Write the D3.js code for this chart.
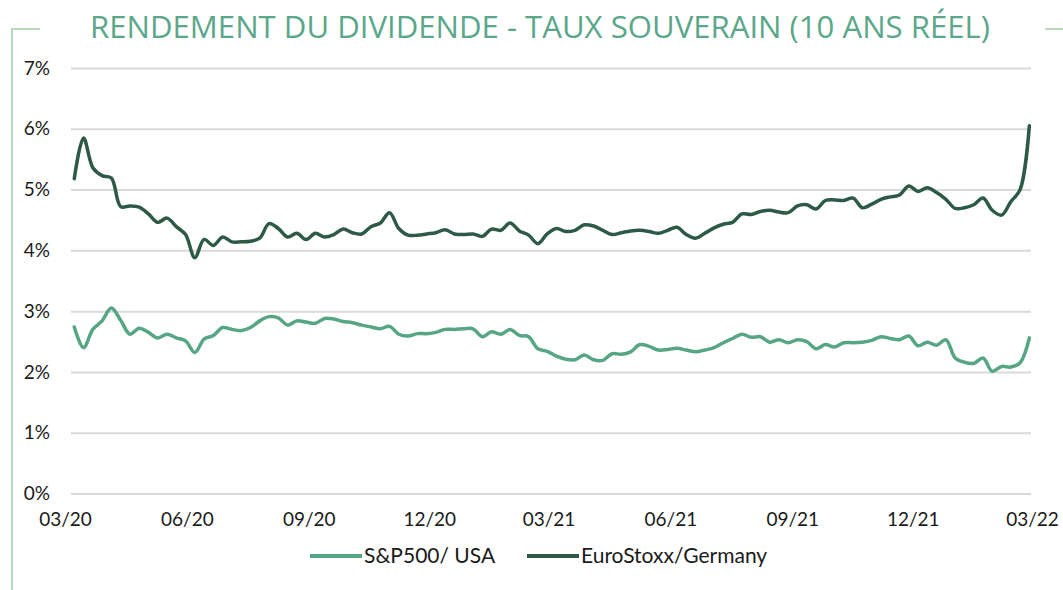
<!DOCTYPE html>
<html>
<head>
<meta charset="utf-8">
<script src="https://cdn.jsdelivr.net/npm/d3@7"></script>
<style>
  body { margin: 0; background: #fff; }
  text { font-family: Lato, "Open Sans", sans-serif; }
</style>
</head>
<body>
<div id="chart"></div>
<script>
// weekly observations
const startDate = '2020-03-08';

// dividend yield minus 10y real sovereign rate, in %
const spUsa = [
  2.74, 2.40, 2.70, 2.84, 3.05, 2.85, 2.62, 2.72, 2.65, 2.56,
  2.62, 2.56, 2.51, 2.32, 2.54, 2.60, 2.73, 2.70, 2.68, 2.73,
  2.84, 2.91, 2.89, 2.77, 2.84, 2.82, 2.80, 2.88, 2.87, 2.83,
  2.81, 2.77, 2.74, 2.71, 2.75, 2.62, 2.59, 2.63, 2.63, 2.65,
  2.70, 2.70, 2.71, 2.71, 2.58, 2.66, 2.62, 2.70, 2.60, 2.58,
  2.38, 2.34, 2.26, 2.21, 2.20, 2.28, 2.20, 2.19, 2.30, 2.29,
  2.33, 2.45, 2.42, 2.36, 2.37, 2.39, 2.36, 2.33, 2.36, 2.40,
  2.48, 2.55, 2.62, 2.57, 2.58, 2.49, 2.53, 2.48, 2.53, 2.50,
  2.38, 2.45, 2.41, 2.48, 2.48, 2.49, 2.52, 2.58, 2.55, 2.53,
  2.59, 2.43, 2.49, 2.44, 2.53, 2.23, 2.16, 2.14, 2.23, 2.01,
  2.09, 2.08, 2.15, 2.56
];

const euroStoxxGermany = [
  5.18, 5.85, 5.36, 5.23, 5.19, 4.72, 4.73, 4.71, 4.60, 4.46,
  4.53, 4.39, 4.26, 3.88, 4.18, 4.08, 4.22, 4.14, 4.14, 4.15,
  4.20, 4.44, 4.36, 4.22, 4.28, 4.18, 4.28, 4.22, 4.26, 4.35,
  4.29, 4.27, 4.39, 4.45, 4.62, 4.36, 4.25, 4.25, 4.27, 4.29,
  4.34, 4.27, 4.26, 4.27, 4.23, 4.35, 4.33, 4.45, 4.32, 4.25,
  4.11, 4.27, 4.36, 4.31, 4.33, 4.42, 4.40, 4.33, 4.26, 4.29,
  4.32, 4.33, 4.31, 4.28, 4.33, 4.38, 4.26, 4.20, 4.28, 4.37,
  4.43, 4.46, 4.60, 4.59, 4.64, 4.66, 4.63, 4.62, 4.73, 4.75,
  4.68, 4.82, 4.83, 4.82, 4.86, 4.70, 4.76, 4.84, 4.88, 4.91,
  5.06, 4.97, 5.03, 4.95, 4.84, 4.69, 4.70, 4.75, 4.86, 4.66,
  4.58, 4.80, 5.00, 6.05
];

const seriesNames = ['S&P500/ USA', 'EuroStoxx/Germany'];
const tickDates = ['2020-03-01', '2020-06-01', '2020-09-01', '2020-12-01', '2021-03-01',
  '2021-06-01', '2021-09-01', '2021-12-01', '2022-03-01'];
const yTicks = [0, 1, 2, 3, 4, 5, 6, 7];
const title = 'RENDEMENT DU DIVIDENDE - TAUX SOUVERAIN (10 ANS RÉEL)';

class LineChart {
  constructor(_config) {
    this.config = {
      parentElement: _config.parentElement,
      containerWidth: 1063,
      containerHeight: 590,
      margin: { top: 68, right: 32, bottom: 97, left: 71 },
      colors: ['#56a686', '#2d5a47']
    };
    this.initVis();
  }

  initVis() {
    let vis = this;
    const m = vis.config.margin;
    vis.width = vis.config.containerWidth - m.left - m.right;
    vis.height = vis.config.containerHeight - m.top - m.bottom;

    vis.svg = d3.select(vis.config.parentElement).append('svg')
      .attr('width', vis.config.containerWidth)
      .attr('height', vis.config.containerHeight);

    // light frame around the chart, broken by the title
    const frame = vis.svg.append('g')
      .attr('stroke', '#b9d8b9')
      .attr('stroke-width', 2)
      .attr('fill', 'none');
    frame.append('path').attr('d', 'M12,590 V29 H40');
    frame.append('path').attr('d', 'M1045,29 H1063');

    vis.svg.append('text')
      .attr('x', 540)
      .attr('y', 38)
      .attr('text-anchor', 'middle')
      .attr('textLength', 900)
      .attr('lengthAdjust', 'spacingAndGlyphs')
      .style('font-family', '"Open Sans", sans-serif')
      .style('font-size', '31px')
      .attr('fill', '#5aa789')
      .text(title);

    vis.chartArea = vis.svg.append('g')
      .attr('transform', `translate(${m.left},${m.top})`);

    const parse = d3.timeParse('%Y-%m-%d');
    vis.dates = spUsa.map((d, i) => d3.timeDay.offset(parse(startDate), 7 * i));
    vis.ticks = tickDates.map(parse);

    // axis runs from the first to the last quarter label
    vis.xScale = d3.scaleTime()
      .domain([vis.ticks[0], vis.ticks[vis.ticks.length - 1]])
      .range([-6, vis.width + 1]);
    vis.yScale = d3.scaleLinear()
      .domain([0, 7])
      .range([vis.height + 0.5, 0]);

    vis.updateVis();
  }

  updateVis() {
    let vis = this;
    vis.series = [spUsa, euroStoxxGermany].map((values, k) => ({
      name: seriesNames[k],
      color: vis.config.colors[k],
      values: values.map((v, i) => ({ date: vis.dates[i], value: v }))
    }));
    vis.renderVis();
  }

  renderVis() {
    let vis = this;

    // gridlines + y labels
    const yAxis = d3.axisLeft(vis.yScale)
      .tickValues(yTicks)
      .tickSize(-vis.width)
      .tickPadding(21)
      .tickFormat(d => d + '%');
    const gy = vis.chartArea.append('g').call(yAxis);
    gy.select('.domain').remove();
    gy.selectAll('.tick line').attr('stroke', '#d9d9d9').attr('stroke-width', 2);
    gy.selectAll('.tick text')
      .attr('fill', '#1a1a1a')
      .style('font-size', '19px');

    const xAxis = d3.axisBottom(vis.xScale)
      .tickValues(vis.ticks)
      .tickSize(0)
      .tickPadding(20)
      .tickFormat(d3.timeFormat('%m/%y'));
    const gx = vis.chartArea.append('g')
      .attr('transform', `translate(0,${vis.height})`)
      .call(xAxis);
    gx.select('.domain').remove();
    gx.selectAll('.tick text')
      .attr('fill', '#1a1a1a')
      .style('font-size', '19px');

    const line = d3.line()
      .x(d => vis.xScale(d.date))
      .y(d => vis.yScale(d.value))
      .curve(d3.curveCatmullRom.alpha(0.5));

    vis.chartArea.selectAll('.series')
      .data(vis.series)
      .join('path')
      .attr('class', 'series')
      .attr('fill', 'none')
      .attr('stroke', d => d.color)
      .attr('stroke-width', 3.5)
      .attr('stroke-linejoin', 'round')
      .attr('stroke-linecap', 'round')
      .attr('d', d => line(d.values));

    // legend
    const legendX = [310, 527];
    const legend = vis.svg.append('g')
      .selectAll('g')
      .data(vis.series)
      .join('g')
      .attr('transform', (d, i) => `translate(${legendX[i]},556)`);
    legend.append('line')
      .attr('x1', 0).attr('x2', 52)
      .attr('stroke', d => d.color)
      .attr('stroke-width', 4);
    legend.append('text')
      .attr('x', 54)
      .attr('dy', '0.35em')
      .attr('fill', '#1a1a1a')
      .style('font-size', '21px')
      .text(d => d.name);
  }
}

new LineChart({ parentElement: '#chart' });
</script>
</body>
</html>
